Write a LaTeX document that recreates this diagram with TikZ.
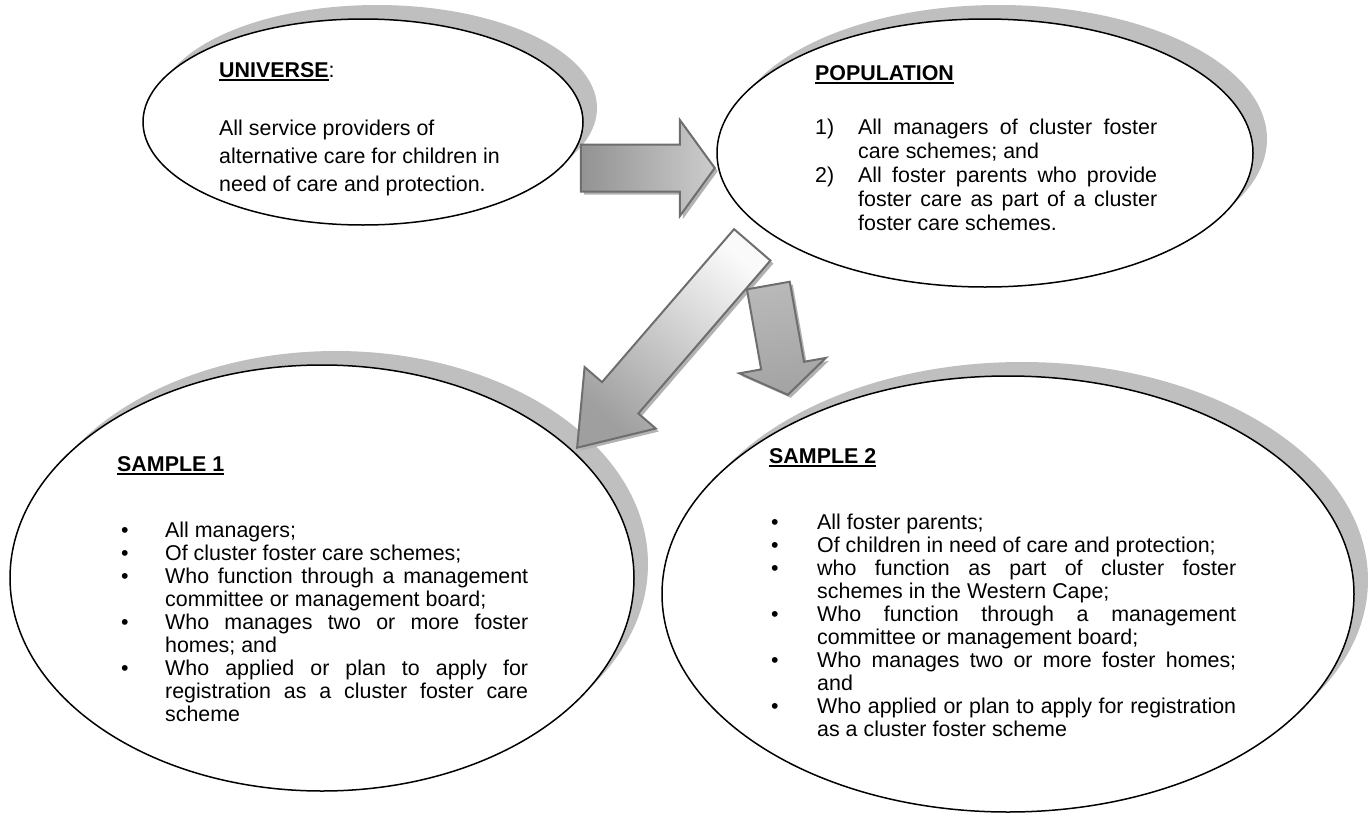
\documentclass[tikz,border=0pt]{standalone}
\usepackage{fontspec}
\setmainfont{Liberation Sans}
\usetikzlibrary{shapes.geometric,shapes.arrows,shadows}

\definecolor{shadowgray}{RGB}{191,191,191}
\definecolor{arrowline}{RGB}{110,110,110}
\definecolor{arrowshade}{RGB}{178,178,178}

\newcommand{\ovalhead}[1]{\setbox0\hbox{\textbf{#1}}\rlap{\rule[-3.5pt]{\wd0}{1.8pt}}\box0}
\newenvironment{ovallist}[2]{%
  \begin{list}{#1}{\setlength{\leftmargin}{#2}\setlength{\labelwidth}{#2}%
    \setlength{\labelsep}{0pt}\setlength{\itemindent}{0pt}\setlength{\itemsep}{0pt}%
    \setlength{\parsep}{0pt}\setlength{\topsep}{0pt}\setlength{\partopsep}{0pt}%
    \renewcommand{\makelabel}[1]{##1\hfil}}}%
  {\end{list}}

\begin{document}
\begin{tikzpicture}[x=1pt,y=-1pt,
  oval/.style={ellipse, draw, line width=1.5pt, fill=white, inner sep=0pt,
    drop shadow={shadow xshift=14pt, shadow yshift=14pt, fill=shadowgray, opacity=1}},
  blockarrow/.style={single arrow, draw=arrowline, line width=2pt, inner xsep=0pt,
    single arrow head indent=0pt, anchor=tip,
    drop shadow={shadow xshift=3pt, shadow yshift=-3pt, fill=arrowshade, opacity=1}},
  head/.style={inner sep=0pt, anchor=base west, font=\fontsize{21.4pt}{23pt}\selectfont},
  txt/.style={inner sep=0pt, anchor=north west, font=\fontsize{21.4pt}{23pt}\selectfont}]
\useasboundingbox (0,0) rectangle (1369,814);

% the four ovals
\node[oval, minimum width=440pt, minimum height=206pt] (universe) at (363,122) {};
\node[oval, minimum width=536pt, minimum height=268pt] (population) at (985,153) {};
\node[oval, minimum width=624pt, minimum height=426pt] (sample1) at (322,578) {};
\node[oval, minimum width=692pt, minimum height=436pt] (sample2) at (1008,594) {};

% block arrows, placed by their tips
\node[blockarrow, minimum height=134pt, inner ysep=22.5pt, single arrow head extend=24.5pt,
  single arrow tip angle=108, left color=gray!85, right color=gray!40] (toPop) at (716,168) {};
\node[blockarrow, rotate=-130.8, minimum height=268pt, inner ysep=23pt, single arrow head extend=23pt,
  single arrow tip angle=71, top color=gray!4, bottom color=gray!75, shading angle=-40.8] (toSampleA) at (576,449) {};
\node[blockarrow, rotate=-79.9, minimum height=111pt, inner ysep=20.75pt, single arrow head extend=22.25pt,
  single arrow tip angle=112, top color=gray!55, bottom color=gray!72, shading angle=10.1] (toSampleB) at (788,396) {};

% texts
\node[head] (unihead) at (219,77) {\ovalhead{UNIVERSE}:};
\node[txt, align=left, font=\fontsize{21.4pt}{28pt}\selectfont] (unitext) at (219,120)
  {All service providers of\\alternative care for children in\\need of care and protection.};

\node[head] (pophead) at (815,80) {\ovalhead{POPULATION}};
\node[txt, font=\fontsize{21.4pt}{24pt}\selectfont] (poptext) at (815,118.5) {\begin{minipage}{342pt}
  \begin{ovallist}{}{43pt}
  \item[1)] All managers of cluster foster\linebreak care schemes; and
  \item[2)] All foster parents who provide\linebreak foster care as part of a cluster\linebreak foster care schemes.
  \end{ovallist}\end{minipage}};

\node[head] (s1head) at (117,471) {\ovalhead{SAMPLE 1}};
\node[txt] (s1text) at (121,521.5) {\begin{minipage}{407pt}
  \begin{ovallist}{\textbullet}{44pt}
  \item All managers;
  \item Of cluster foster care schemes;
  \item Who function through a management\linebreak committee or management board;
  \item Who manages two or more foster\linebreak homes; and
  \item Who applied or plan to apply for\linebreak registration as a cluster foster care\linebreak scheme
  \end{ovallist}\end{minipage}};

\node[head] (s2head) at (769,463) {\ovalhead{SAMPLE 2}};
\node[txt] (s2text) at (771,513.5) {\begin{minipage}{465pt}
  \begin{ovallist}{\textbullet}{46pt}
  \item All foster parents;
  \item Of children in need of care and protection;
  \item who function as part of cluster foster\linebreak schemes in the Western Cape;
  \item Who function through a management\linebreak committee or management board;
  \item Who manages two or more foster homes;\linebreak and
  \item Who applied or plan to apply for registration\linebreak as a cluster foster scheme
  \end{ovallist}\end{minipage}};
\end{tikzpicture}
\end{document}
